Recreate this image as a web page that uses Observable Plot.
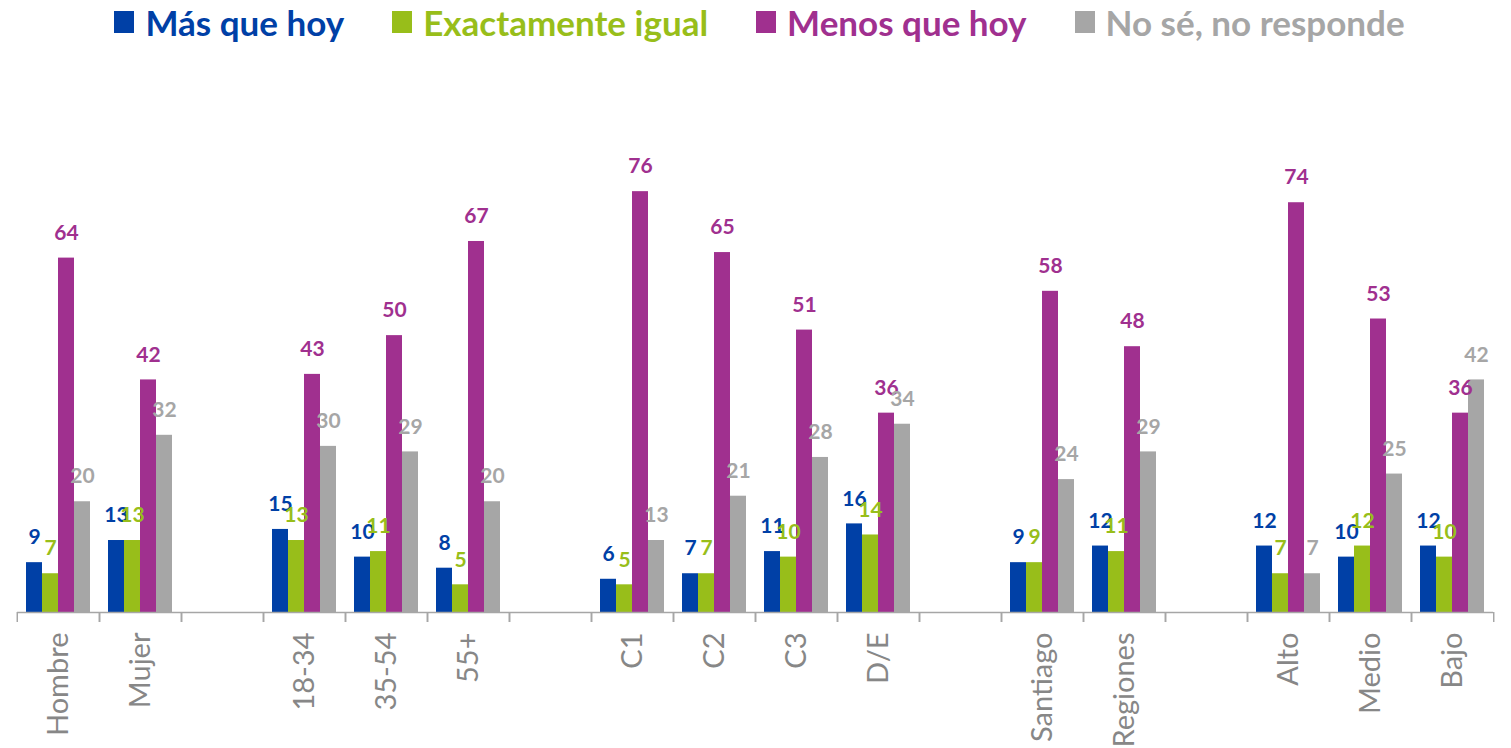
<!DOCTYPE html>
<html>
<head>
<meta charset="utf-8">
<script src="https://cdn.jsdelivr.net/npm/d3@7"></script>
<script src="https://cdn.jsdelivr.net/npm/@observablehq/plot@0.6"></script>
<style>
  html, body { margin: 0; padding: 0; background: #fff; }
  #legend { height: 60px; display: flex; justify-content: center; align-items: flex-start; gap: 48px;
            font-family: Lato, "Open Sans", sans-serif; font-weight: bold; font-size: 35px; line-height: 42px;
            padding-top: 1px; padding-left: 8px; box-sizing: border-box; }
  .item { display: flex; align-items: center; gap: 11px; }
  .sw { width: 20px; height: 22px; display: inline-block; }
  #chart svg { display: block; }
</style>
</head>
<body>
<div id="legend"></div>
<div id="chart"></div>
<script>
const series = ["Más que hoy", "Exactamente igual", "Menos que hoy", "No sé, no responde"];
const colors = ["#0040A6", "#98BE1A", "#A0308F", "#A6A6A6"];

// category slots along the axis (gap slots are empty separators)
const slots = ["Hombre", "Mujer", "gap1", "18-34", "35-54", "55+", "gap2",
               "C1", "C2", "C3", "D/E", "gap3", "Santiago", "Regiones", "gap4",
               "Alto", "Medio", "Bajo"];
const categories = ["Hombre", "Mujer", "18-34", "35-54", "55+", "C1", "C2", "C3", "D/E",
                    "Santiago", "Regiones", "Alto", "Medio", "Bajo"];
const masQueHoy        = [9, 13, 15, 10, 8, 6, 7, 11, 16, 9, 12, 12, 10, 12];
const exactamenteIgual = [7, 13, 13, 11, 5, 5, 7, 10, 14, 9, 11, 7, 12, 10];
const menosQueHoy      = [64, 42, 43, 50, 67, 76, 65, 51, 36, 58, 48, 74, 53, 36];
const noSe             = [20, 32, 30, 29, 20, 13, 21, 28, 34, 24, 29, 7, 25, 42];

const values = [masQueHoy, exactamenteIgual, menosQueHoy, noSe];
const rows = [];
categories.forEach((c, i) => series.forEach((s, j) => rows.push({cat: c, series: s, value: values[j][i]})));

// legend
const legend = document.getElementById("legend");
series.forEach((s, j) => {
  const it = document.createElement("div");
  it.className = "item";
  it.style.color = colors[j];
  const sw = document.createElement("span");
  sw.className = "sw";
  sw.style.background = colors[j];
  const tx = document.createElement("span");
  tx.textContent = s;
  it.appendChild(sw); it.appendChild(tx);
  legend.appendChild(it);
});

const W = 1511, H = 688, mL = 13, mR = 14;
const half = (W - mL - mR) / slots.length / 2;
const axisGray = "#A6A6A6";
const fmt = d => d.startsWith("gap") ? "" : d;

const chart = Plot.plot({
  width: W, height: H,
  marginLeft: mL, marginRight: mR, marginTop: 109, marginBottom: 136,
  style: {fontFamily: "Lato, 'Open Sans', sans-serif", background: "white"},
  fx: {domain: slots, padding: 0, label: null, axis: null},
  x: {domain: series, paddingInner: 0, paddingOuter: 0.5, axis: null},
  y: {domain: [0, 80], axis: null},
  color: {domain: series, range: colors},
  marks: [
    Plot.barY(rows, {fx: "cat", x: "series", y: "value", fill: "series"}),
    Plot.text(rows, {fx: "cat", x: "series", y: "value", text: d => String(d.value), fill: "series",
                     dy: -25, fontSize: 21, fontWeight: "bold"}),
    Plot.ruleY(slots, {fx: d => d, y: 0, stroke: axisGray, strokeWidth: 1.5}),
    Plot.axisFx({anchor: "bottom", tickSize: 0, tickRotate: -90, tickPadding: 20, fontSize: 29,
                 fill: "#878787", tickFormat: fmt, label: null}),
    Plot.axisFx({anchor: "bottom", tickSize: 10, tickFormat: () => "", stroke: axisGray, strokeWidth: 1.5, dx: -half, label: null}),
    Plot.axisFx({anchor: "bottom", tickSize: 10, tickFormat: () => "", stroke: axisGray, strokeWidth: 1.5, dx: half, label: null})
  ]
});
document.getElementById("chart").appendChild(chart);
</script>
</body>
</html>
